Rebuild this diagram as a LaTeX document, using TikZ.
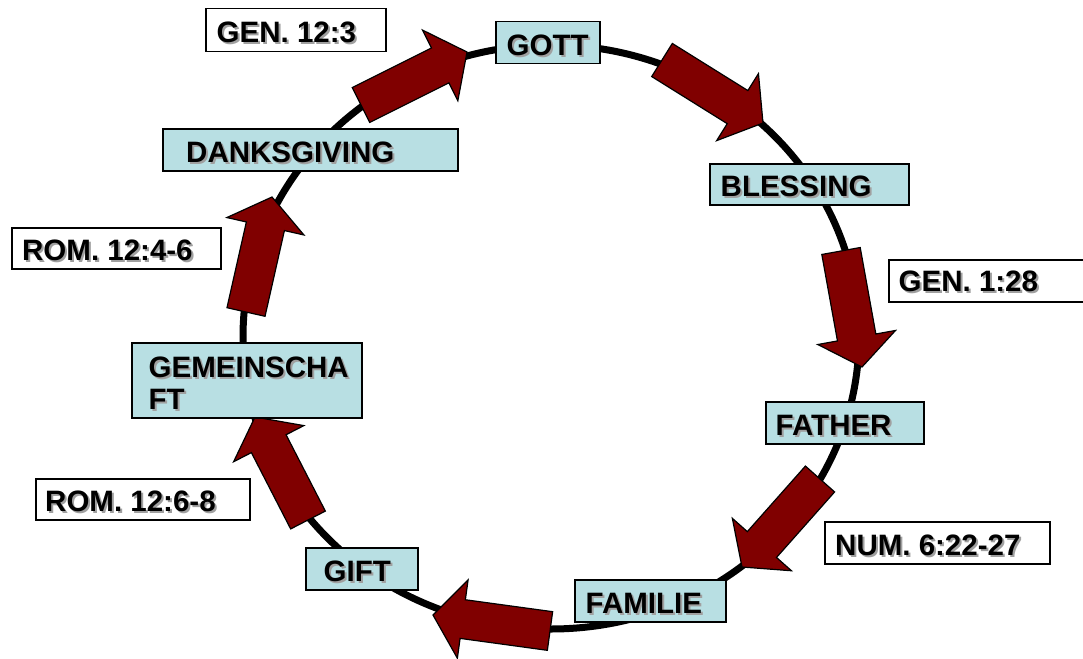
\documentclass[tikz,border=0pt]{standalone}
\usepackage{fontspec}
\setmainfont{Liberation Sans}
\usetikzlibrary{calc}
\definecolor{boxc}{RGB}{184,223,227}
\definecolor{arrc}{RGB}{128,0,0}
\definecolor{shgray}{RGB}{160,160,160}
\newcommand\shd[1]{\leavevmode\rlap{\hspace{2pt}\raisebox{-2pt}{\textcolor{shgray}{#1}}}#1}
\newcommand\blockarrow[3]{%
  \coordinate (#1s) at #2;
  \coordinate (#1e) at #3;
  \coordinate (#1b) at ($(#1e)!30pt!(#1s)$);
  \draw[arrowst] ($(#1s)!19.5pt!90:(#1e)$) -- ($(#1b)!19.5pt!90:(#1e)$) -- ($(#1b)!39.5pt!90:(#1e)$) -- (#1e)
    -- ($(#1b)!39.5pt!-90:(#1e)$) -- ($(#1b)!19.5pt!-90:(#1e)$) -- ($(#1s)!19.5pt!-90:(#1e)$) -- cycle;
}
\begin{document}
\begin{tikzpicture}[x=1pt,y=-1pt,
  arrowst/.style={fill=arrc,draw=black,line width=1.2pt,line join=miter},
  cbox/.style={draw=black,line width=1.5pt,anchor=north west,inner sep=0pt,fill=boxc},
  wbox/.style={cbox,fill=white},
  lbl/.style={anchor=base west,inner sep=0pt,font=\bfseries\fontsize{29.5}{32}\selectfont}]
\useasboundingbox (0,0) rectangle (1083,658);
\fill[white] (0,0) rectangle (1083,658);
% ring
\draw[line width=7pt] (551,337) ellipse [x radius=308pt, y radius=292pt];
% block arrows
\blockarrow{a1}{(361,105)}{(467,52)}
\blockarrow{a2}{(662,60)}{(763,123)}
\blockarrow{a3}{(841,251)}{(862,367)}
\blockarrow{a4}{(820,479)}{(742,567)}
\blockarrow{a5}{(550,631)}{(433,615)}
\blockarrow{a6}{(308,520)}{(255,417)}
\blockarrow{a7}{(246,312)}{(272,197)}
% boxes
\node[wbox,minimum width=180pt,minimum height=43pt] (gen123) at (205,8) {};
\node[lbl] (gen123t) at (216.5,43) {\shd{GEN. 12:3}};
\node[cbox,minimum width=104pt,minimum height=42pt] (gott) at (495,21) {};
\node[lbl] (gottt) at (506.5,55.5) {\shd{GOTT}};
\node[cbox,minimum width=295pt,minimum height=42pt] (dank) at (162,128) {};
\node[lbl] (dankt) at (186,162) {\shd{DANKSGIVING}};
\node[cbox,minimum width=199pt,minimum height=41pt] (bless) at (709,163) {};
\node[lbl] (blesst) at (720.5,196) {\shd{BLESSING}};
\node[wbox,minimum width=200pt,minimum height=42pt] (gen128) at (888,259) {};
\node[lbl] (gen128t) at (898.5,291.5) {\shd{GEN. 1:28}};
\node[wbox,minimum width=209pt,minimum height=41pt] (rom46) at (11,227) {};
\node[lbl] (rom46t) at (22,260) {\shd{ROM. 12:4-6}};
\node[cbox,minimum width=230pt,minimum height=75pt] (gem) at (131,342) {};
\node[lbl] (gemt1) at (148.5,377) {\shd{GEMEINSCHA}};
\node[lbl] (gemt2) at (148.5,409) {\shd{FT}};
\node[cbox,minimum width=158pt,minimum height=42pt] (father) at (765,401) {};
\node[lbl] (fathert) at (775.5,435) {\shd{FATHER}};
\node[wbox,minimum width=214pt,minimum height=41pt] (rom68) at (35,478) {};
\node[lbl] (rom68t) at (45,511.5) {\shd{ROM. 12:6-8}};
\node[wbox,minimum width=225pt,minimum height=42pt] (num) at (824,521) {};
\node[lbl] (numt) at (835,555) {\shd{NUM. 6:22-27}};
\node[cbox,minimum width=112pt,minimum height=42pt] (gift) at (305,547) {};
\node[lbl] (giftt) at (323.5,581.5) {\shd{GIFT}};
\node[cbox,minimum width=151pt,minimum height=42pt] (fam) at (574,579) {};
\node[lbl] (famt) at (585.5,613) {\shd{FAMILIE}};
\end{tikzpicture}
\end{document}
